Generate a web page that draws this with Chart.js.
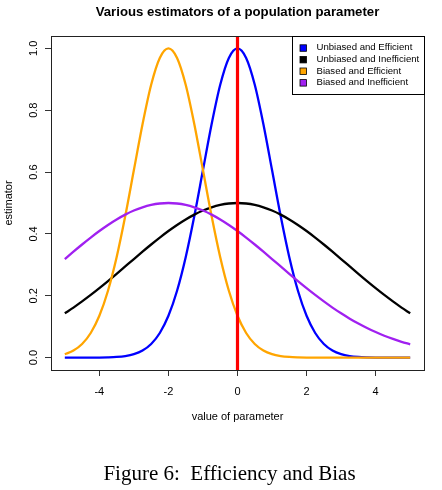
<!DOCTYPE html>
<html>
<head>
<meta charset="utf-8">
<script src="https://cdn.jsdelivr.net/npm/chart.js@4.4.1/dist/chart.umd.min.js"></script>
<style>
  html, body { margin: 0; padding: 0; background: #fff; }
  #wrap { position: relative; width: 442px; height: 490px; }
  #caption { position: absolute; left: 0; width: 459px; top: 463px; text-align: center; line-height: 21px;
    font-family: "Liberation Serif", serif; font-size: 21px; color: #000; white-space: pre; }
</style>
</head>
<body>
<div id="wrap">
  <canvas id="c" width="442" height="490"></canvas>
  <div id="caption">Figure 6:  Efficiency and Bias</div>
</div>
<script>
const titleText = "Various estimators of a population parameter";
const xLabel = "value of parameter";
const yLabel = "estimator";
const xTicks = [-4, -2, 0, 2, 4];
const yTicks = [0, 0.2, 0.4, 0.6, 0.8, 1.0];
const vlineX = [0];

const xs = [-5,-4.75,-4.5,-4.25,-4,-3.75,-3.5,-3.25,-3,-2.75,-2.5,-2.25,-2,-1.75,-1.5,-1.25,-1,-0.75,-0.5,-0.25,0,0.25,0.5,0.75,1,1.25,1.5,1.75,2,2.25,2.5,2.75,3,3.25,3.5,3.75,4,4.25,4.5,4.75,5];

const seriesNames = ["Unbiased and Efficient", "Unbiased and Inefficient", "Biased and Efficient", "Biased and Inefficient"];
const seriesColors = ["#0000FF", "#000000", "#FFA500", "#A020F0"];

const unbiasedEfficient = [0.0000,0.0000,0.0000,0.0001,0.0003,0.0009,0.0022,0.0051,0.0111,0.0228,0.0439,0.0796,0.1353,0.2163,0.3247,0.4578,0.6065,0.7548,0.8825,0.9692,1.0000,0.9692,0.8825,0.7548,0.6065,0.4578,0.3247,0.2163,0.1353,0.0796,0.0439,0.0228,0.0111,0.0051,0.0022,0.0009,0.0003,0.0001,0.0000,0.0000,0.0000];
const unbiasedInefficient = [0.1433,0.1618,0.1817,0.2027,0.2247,0.2475,0.2710,0.2949,0.3188,0.3426,0.3658,0.3882,0.4094,0.4290,0.4468,0.4624,0.4756,0.4861,0.4938,0.4984,0.5000,0.4984,0.4938,0.4861,0.4756,0.4624,0.4468,0.4290,0.4094,0.3882,0.3658,0.3426,0.3188,0.2949,0.2710,0.2475,0.2247,0.2027,0.1817,0.1618,0.1433];
const biasedEfficient = [0.0111,0.0228,0.0439,0.0796,0.1353,0.2163,0.3247,0.4578,0.6065,0.7548,0.8825,0.9692,1.0000,0.9692,0.8825,0.7548,0.6065,0.4578,0.3247,0.2163,0.1353,0.0796,0.0439,0.0228,0.0111,0.0051,0.0022,0.0009,0.0003,0.0001,0,0,0,0,0,0,0,0,0,0,0];
const biasedInefficient = [0.3188,0.3426,0.3658,0.3882,0.4094,0.4290,0.4468,0.4624,0.4756,0.4861,0.4938,0.4984,0.5000,0.4984,0.4938,0.4861,0.4756,0.4624,0.4468,0.4290,0.4094,0.3882,0.3658,0.3426,0.3188,0.2949,0.2710,0.2475,0.2247,0.2027,0.1817,0.1618,0.1433,0.1260,0.1102,0.0957,0.0827,0.0709,0.0605,0.0512,0.0431];

const allSeries = [unbiasedEfficient, unbiasedInefficient, biasedEfficient, biasedInefficient];
const FONT = '"Liberation Sans", Arial, Helvetica, sans-serif';

const datasets = allSeries.map((vals, i) => ({
  label: seriesNames[i],
  data: vals.map((v, j) => ({ x: xs[j], y: v })),
  borderColor: seriesColors[i],
  borderWidth: 2.3,
  pointRadius: 0,
  fill: false,
  cubicInterpolationMode: 'monotone',
  order: 4 - i
}));

const overlay = {
  id: 'overlay',
  afterDatasetsDraw(chart) {
    const ctx = chart.ctx, a = chart.chartArea, sx = chart.scales.x;
    ctx.save();
    ctx.strokeStyle = '#FF0000';
    ctx.lineWidth = 3.2;
    vlineX.forEach(v => {
      const px = sx.getPixelForValue(v);
      ctx.beginPath(); ctx.moveTo(px, a.top); ctx.lineTo(px, a.bottom); ctx.stroke();
    });
    ctx.restore();
  },
  afterDraw(chart) {
    const ctx = chart.ctx, a = chart.chartArea, ys = chart.scales.y, sx = chart.scales.x;
    ctx.save();
    // plot box
    ctx.strokeStyle = '#222';
    ctx.lineWidth = 1;
    ctx.strokeRect(Math.round(a.left) + 0.5, Math.round(a.top) + 0.5, Math.round(a.right - a.left), Math.round(a.bottom - a.top));
    ctx.fillStyle = '#000';
    ctx.textAlign = 'center';
    ctx.textBaseline = 'alphabetic';
    // title
    ctx.font = 'bold 13.2px ' + FONT;
    ctx.fillText(titleText, (a.left + a.right) / 2, 15.5);
    // x label
    ctx.font = '11px ' + FONT;
    ctx.fillText(xLabel, (a.left + a.right) / 2, 419.5);
    // x tick labels
    sx.ticks.forEach(t => {
      ctx.fillText(String(t.value), sx.getPixelForValue(t.value), 394.5);
    });
    // y label
    ctx.save();
    ctx.translate(11.8, (a.top + a.bottom) / 2);
    ctx.rotate(-Math.PI / 2);
    ctx.fillText(yLabel, 0, 0);
    ctx.restore();
    // y tick labels rotated
    ys.ticks.forEach(t => {
      const py = ys.getPixelForValue(t.value);
      ctx.save();
      ctx.translate(36.8, py);
      ctx.rotate(-Math.PI / 2);
      ctx.fillText(t.value.toFixed(1), 0, 0);
      ctx.restore();
    });
    // legend
    const lx = 292, ly = 36, lw = a.right - 292, lh = 58;
    ctx.fillStyle = '#fff';
    ctx.fillRect(lx, ly, lw, lh);
    ctx.strokeStyle = '#000';
    ctx.strokeRect(lx + 0.5, ly + 0.5, lw, lh);
    ctx.font = '9.6px ' + FONT;
    ctx.textAlign = 'left';
    ctx.textBaseline = 'middle';
    seriesNames.forEach((name, i) => {
      const cy = 47.8 + i * 11.6;
      ctx.fillStyle = seriesColors[i];
      ctx.fillRect(300, cy - 3, 6.5, 6.5);
      ctx.strokeStyle = '#000';
      ctx.lineWidth = 0.8;
      ctx.strokeRect(300, cy - 3, 6.5, 6.5);
      ctx.fillStyle = '#000';
      ctx.fillText(name, 316.5, cy);
    });
    ctx.restore();
  }
};

new Chart(document.getElementById('c'), {
  type: 'line',
  data: { datasets },
  options: {
    responsive: false,
    animation: false,
    devicePixelRatio: 1,
    layout: { padding: { left: 0, right: 18, top: 36, bottom: 0 } },
    plugins: { legend: { display: false }, title: { display: false }, tooltip: { enabled: false } },
    scales: {
      x: {
        type: 'linear', min: -5.4, max: 5.4,
        afterBuildTicks: s => { s.ticks = xTicks.map(v => ({ value: v })); },
        afterFit: s => { s.height = 120; },
        border: { display: false },
        grid: { drawOnChartArea: false, drawTicks: true, tickLength: 6, color: '#333' },
        ticks: { display: false }
      },
      y: {
        type: 'linear', min: -0.04, max: 1.04,
        afterBuildTicks: s => { s.ticks = yTicks.map(v => ({ value: v })); },
        afterFit: s => { s.width = 51; },
        border: { display: false },
        grid: { drawOnChartArea: false, drawTicks: true, tickLength: 6, color: '#333' },
        ticks: { display: false }
      }
    }
  },
  plugins: [overlay]
});
</script>
</body>
</html>
